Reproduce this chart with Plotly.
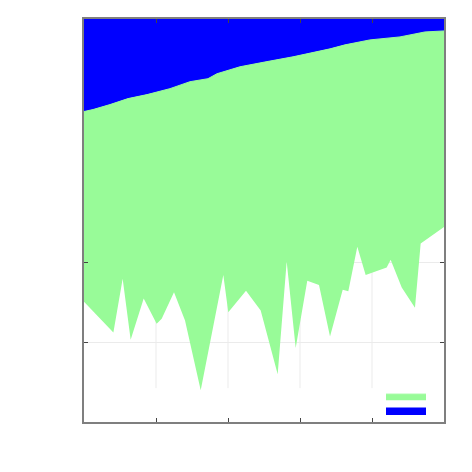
import plotly.graph_objects as go

# lower boundary of green band
lower_x = [0, 0.408, 0.537, 0.648, 0.829, 1.009, 1.079, 1.25, 1.403, 1.621,
           1.935, 2.004, 2.25, 2.454, 2.69, 2.815, 2.94, 3.101, 3.264, 3.417,
           3.593, 3.671, 3.796, 3.912, 4.204, 4.259, 4.413, 4.597, 4.676, 5.0]
lower_y = [1.51, 1.125, 1.80, 1.033, 1.55, 1.233, 1.296, 1.629, 1.275, 0.40,
           1.846, 1.379, 1.65, 1.40, 0.6, 2.016, 0.929, 1.775, 1.721, 1.075,
           1.6625, 1.641, 2.20, 1.846, 1.942, 2.0375, 1.691, 1.434, 2.241, 2.45]

# upper boundary of green band (= lower edge of blue band)
upper_x = [0, 0.125, 0.361, 0.611, 0.875, 1.028, 1.194, 1.472, 1.722, 1.847,
           2.167, 2.528, 2.903, 3.417, 3.625, 3.972, 4.389, 4.736, 5.0]
upper_y = [3.9, 3.925, 3.9875, 4.0625, 4.1125, 4.15, 4.1875, 4.275, 4.3125, 4.375,
           4.4625, 4.525, 4.5875, 4.6875, 4.7375, 4.8, 4.8375, 4.9, 4.9125]

# top of blue band (beyond visible range)
top_x = [0, 5]
top_y = [5.3, 5.3]

x_ticks = [1, 2, 3, 4]
y_ticks = [1, 2]

GREEN = "#98fb98"
BLUE = "#0000ff"

fig = go.Figure()
fig.add_trace(go.Scatter(x=lower_x, y=lower_y, mode="lines", line=dict(width=0),
                         showlegend=False, hoverinfo="skip"))
fig.add_trace(go.Scatter(x=upper_x, y=upper_y, mode="lines", line=dict(width=1, color=GREEN),
                         fill="tonexty", fillcolor=GREEN, name="", legend="legend"))
fig.add_trace(go.Scatter(x=top_x, y=top_y, mode="lines", line=dict(width=3, color=BLUE),
                         fill="tonexty", fillcolor=BLUE, name="", legend="legend2"))

# vertical grid lines (stop above the bottom, as in the reference)
for xv in x_ticks:
    fig.add_shape(type="line", xref="x", yref="paper", x0=xv, x1=xv, y0=0.084, y1=1,
                  line=dict(color="#ebebeb", width=1), layer="below")

leg_common = dict(xanchor="left", yanchor="middle", bgcolor="rgba(0,0,0,0)",
                  font=dict(size=6), itemwidth=40)

fig.update_layout(
    width=472, height=472,
    margin=dict(l=76, r=36, t=9, b=58),
    plot_bgcolor="white", paper_bgcolor="white",
    showlegend=True,
    legend=dict(x=0.825, y=0.0642, **leg_common),
    legend2=dict(x=0.825, y=0.0272, **leg_common),
    xaxis=dict(range=[0, 5], tickvals=x_ticks, showticklabels=False, showgrid=False,
               zeroline=False, showline=True, linecolor="#7f7f7f", linewidth=2,
               mirror="ticks", ticks="inside", ticklen=4, tickcolor="#444"),
    yaxis=dict(range=[0, 5.0625], tickvals=y_ticks, showticklabels=False, showgrid=True,
               gridcolor="#ebebeb", zeroline=False, showline=True, linecolor="#7f7f7f",
               linewidth=2, mirror="ticks", ticks="inside", ticklen=4, tickcolor="#444"),
)

fig.write_html("out.html")
